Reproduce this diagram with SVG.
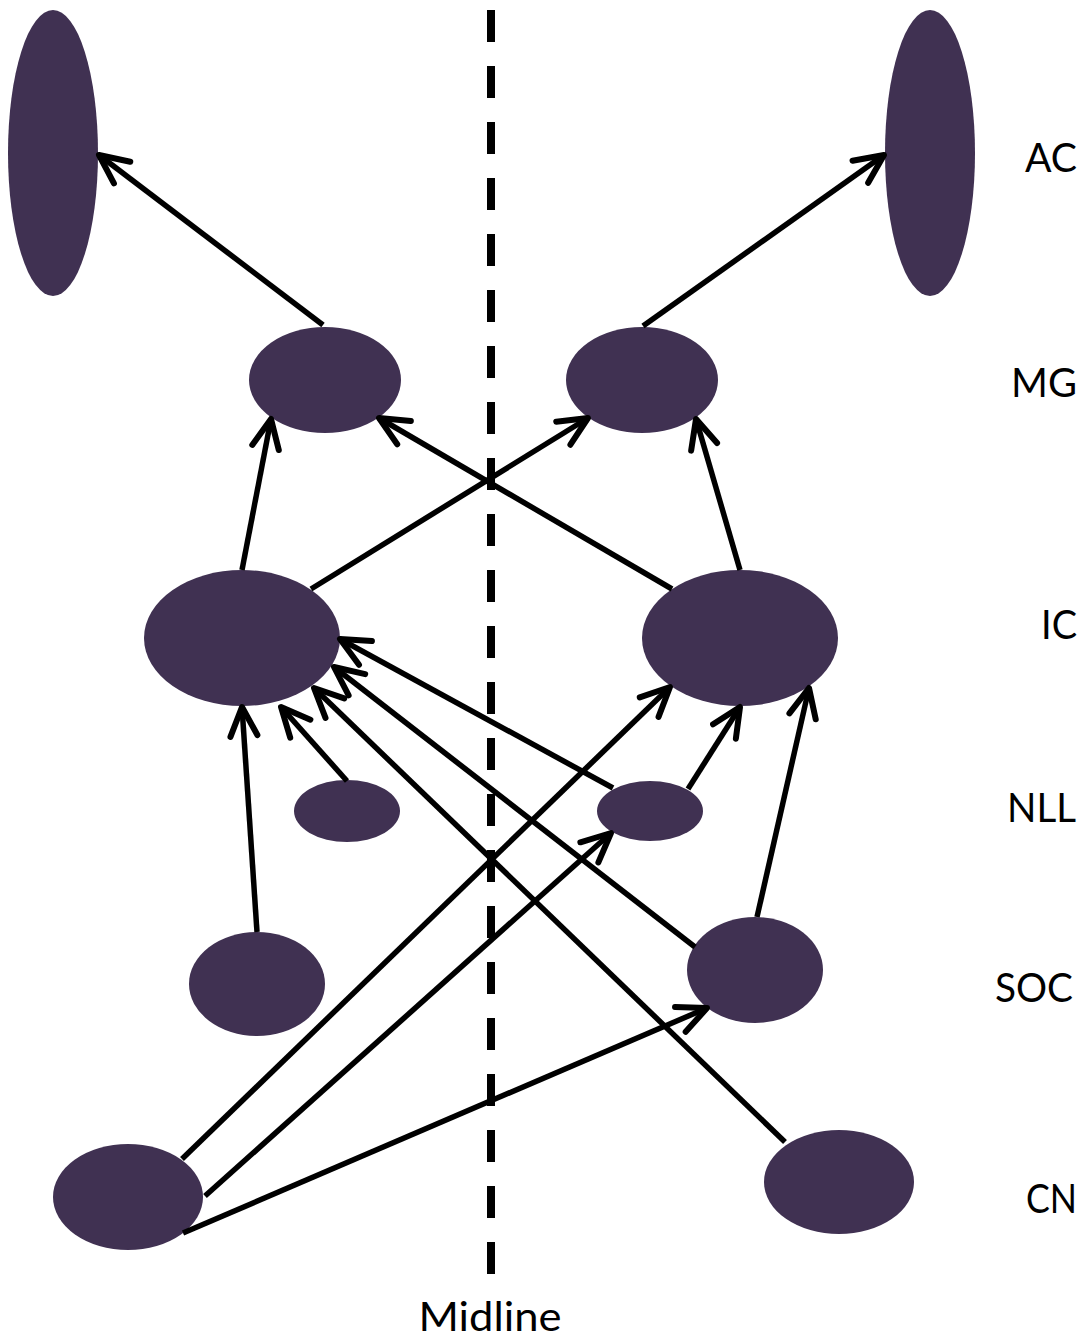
<svg xmlns="http://www.w3.org/2000/svg" width="1088" height="1339" viewBox="0 0 1088 1339">
<style>
.node{fill:#403152}
.edge{fill:none;stroke:#000;stroke-width:5.5;marker-end:url(#arr)}
.lbl{font-family:Lato,"Open Sans","Liberation Sans",sans-serif;font-size:41px;fill:#000}
.mid{fill:none;stroke:#000;stroke-width:8;stroke-dasharray:32 24}
</style>
<defs>
<marker id="arr" markerUnits="userSpaceOnUse" viewBox="-40 -20 45 40" markerWidth="45" markerHeight="40" refX="0" refY="0" orient="auto" overflow="visible">
<path d="M-29,-13.5 L0,0 L-29,13.5" fill="none" stroke="#000" stroke-width="6" stroke-linecap="round" stroke-linejoin="round"/>
</marker>
</defs>
<rect width="1088" height="1339" fill="#fff"/>
<line class="mid" x1="491" y1="10" x2="491" y2="1275"/>
<g id="nodes">
<ellipse id="AC-left" class="node" cx="53" cy="153" rx="45" ry="143"/>
<ellipse id="AC-right" class="node" cx="930" cy="153" rx="45" ry="143"/>
<ellipse id="MG-left" class="node" cx="325" cy="380" rx="76" ry="53"/>
<ellipse id="MG-right" class="node" cx="642" cy="380" rx="76" ry="53"/>
<ellipse id="IC-left" class="node" cx="242" cy="638" rx="98" ry="68"/>
<ellipse id="IC-right" class="node" cx="740" cy="638" rx="98" ry="68"/>
<ellipse id="NLL-left" class="node" cx="347" cy="811" rx="53" ry="31"/>
<ellipse id="NLL-right" class="node" cx="650" cy="811" rx="53" ry="30"/>
<ellipse id="SOC-left" class="node" cx="257" cy="984" rx="68" ry="52"/>
<ellipse id="SOC-right" class="node" cx="755" cy="970" rx="68" ry="53"/>
<ellipse id="CN-left" class="node" cx="128" cy="1197" rx="75" ry="53"/>
<ellipse id="CN-right" class="node" cx="839" cy="1182" rx="75" ry="52"/>
</g>
<g id="connectors">
<line class="edge" x1="323" y1="325" x2="99" y2="155"/>
<line class="edge" x1="643" y1="326" x2="884" y2="155"/>
<line class="edge" x1="242" y1="570" x2="271" y2="419"/>
<line class="edge" x1="311" y1="589" x2="588" y2="418"/>
<line class="edge" x1="672" y1="589" x2="379" y2="418"/>
<line class="edge" x1="740" y1="570" x2="696" y2="419"/>
<line class="edge" x1="257" y1="932" x2="242" y2="707"/>
<line class="edge" x1="347" y1="781" x2="281" y2="707"/>
<line class="edge" x1="785" y1="1142" x2="314" y2="688"/>
<line class="edge" x1="695" y1="947" x2="334" y2="667"/>
<line class="edge" x1="613" y1="788" x2="340" y2="639"/>
<line class="edge" x1="182" y1="1159" x2="670" y2="687"/>
<line class="edge" x1="205" y1="1196" x2="611" y2="833"/>
<line class="edge" x1="183" y1="1233" x2="707" y2="1008"/>
<line class="edge" x1="688" y1="789" x2="740" y2="707"/>
<line class="edge" x1="757" y1="917" x2="809" y2="688"/>
</g>
<g id="labels">
<text class="lbl" x="1077" y="172" text-anchor="end" textLength="52" lengthAdjust="spacingAndGlyphs">AC</text>
<text class="lbl" x="1077" y="397" text-anchor="end" textLength="66" lengthAdjust="spacingAndGlyphs">MG</text>
<text class="lbl" x="1077" y="639" text-anchor="end" textLength="36" lengthAdjust="spacingAndGlyphs">IC</text>
<text class="lbl" x="1076" y="822" text-anchor="end" textLength="69" lengthAdjust="spacingAndGlyphs">NLL</text>
<text class="lbl" x="1073" y="1002" text-anchor="end" textLength="78" lengthAdjust="spacingAndGlyphs">SOC</text>
<text class="lbl" x="1077" y="1213" text-anchor="end" textLength="51" lengthAdjust="spacingAndGlyphs">CN</text>
<text class="lbl" x="490" y="1331" text-anchor="middle" textLength="143" lengthAdjust="spacingAndGlyphs">Midline</text>
</g>
</svg>
